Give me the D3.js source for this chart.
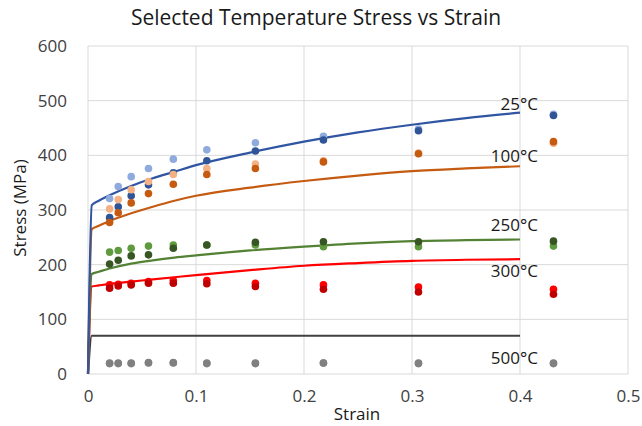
<!DOCTYPE html>
<html>
<head>
<meta charset="utf-8">
<script src="https://cdn.jsdelivr.net/npm/d3@7"></script>
<style>
  html, body { margin: 0; padding: 0; background: #fff; }
  svg { display: block; font-family: "Open Sans", "Noto Sans", sans-serif; }
</style>
</head>
<body>
<svg id="chart" width="642" height="426"></svg>
<script>
// ---------- data ----------
const title = "Selected Temperature Stress vs Strain";
const xTicks = [0, 0.1, 0.2, 0.3, 0.4, 0.5];
const yTicks = [0, 100, 200, 300, 400, 500, 600];

// experimental strain points
const testStrain = [0.02, 0.028, 0.04, 0.056, 0.079, 0.11, 0.155, 0.218, 0.306, 0.431];
const test25a  = [321, 343, 361, 376, 393, 410, 423, 435, 448, 475];
const test25b  = [286, 306, 326, 346, 368, 390, 408, 428, 445, 473];
const test100a = [302, 319, 337, 352, 365, 376, 384, 390, 404, 422];
const test100b = [277, 295, 313, 330, 347, 365, 376, 388, 403, 425];
const test250a = [223, 226, 230, 234, 236, 236, 236, 233, 233, 234];
const test250b = [201, 208, 216, 218, 230, 236, 241, 242, 242, 243];
const test300a = [163, 164, 166, 169, 171, 171, 166, 163, 159, 155];
const test300b = [157, 161, 163, 166, 166, 165, 160, 155, 150, 146];
const test500a = [19, 19, 19, 21, 21, 19, 19, 20, 19, 19];
const test500b = [20, 20, 20, 20, 20, 20, 20, 20, 20, 20];

// model curves
const modelStrain = [0, 0.0035, 0.01, 0.02, 0.04, 0.06, 0.08, 0.1, 0.15, 0.2, 0.25, 0.3, 0.35, 0.4];
const model25  = [0, 309, 317, 327, 344, 358, 370, 382, 405, 425, 442, 456, 468, 478];
const model100 = [0, 265, 271, 280, 294, 306, 317, 326, 341, 353, 363, 371, 376, 380];
const model250 = [0, 183, 187, 193, 202, 208, 213, 217, 226, 233, 239, 243, 245, 246];
const model300 = [0, 160, 162, 165, 169, 173, 177, 181, 190, 198, 203, 207, 209, 210];
const model500 = [0, 70, 70, 70, 70, 70, 70, 70, 70, 70, 70, 70, 70, 70];

const curveLabels = ["25°C", "100°C", "250°C", "300°C", "500°C"];
const labelStress = [494, 399, 272, 188, 29];

// ---------- styles ----------
const lineColors = ["#2f55a3", "#c55a11", "#548235", "#ff0000", "#404040"];
const dotColors = [
  ["#8faadc", "#2f5597"],
  ["#f4b183", "#c55a11"],
  ["#5f9b3e", "#375623"],
  ["#ff0000", "#c00000"],
  ["#808080", "#808080"]
];

const svg = d3.select("#chart");
const M = { left: 88, right: 628, top: 46, bottom: 374 };
const x = d3.scaleLinear().domain([0, 0.5]).range([M.left, M.right]);
const y = d3.scaleLinear().domain([0, 600]).range([M.bottom, M.top]);

// gridlines
const grid = svg.append("g");
grid.selectAll("line.h").data(yTicks).join("line")
  .attr("x1", M.left).attr("x2", M.right)
  .attr("y1", d => y(d)).attr("y2", d => y(d))
  .attr("stroke", "#d9d9d9").attr("stroke-width", 1);
grid.selectAll("line.v").data(xTicks).join("line")
  .attr("x1", d => x(d)).attr("x2", d => x(d))
  .attr("y1", M.top).attr("y2", M.bottom)
  .attr("stroke", "#d9d9d9").attr("stroke-width", 1);

// axes (labels only)
const yAxis = d3.axisLeft(y).tickValues(yTicks).tickSize(0).tickPadding(21).tickFormat(d3.format("d"));
const gy = svg.append("g").attr("transform", `translate(${M.left},0)`).call(yAxis);
gy.select(".domain").remove();
gy.selectAll("text").attr("font-size", 17).attr("fill", "#404040").attr("font-family", "Open Sans");

const xAxis = d3.axisBottom(x).tickValues(xTicks).tickSize(0).tickPadding(16).tickFormat(d => d === 0 ? "0" : d3.format(".1f")(d));
const gx = svg.append("g").attr("transform", `translate(0,${M.bottom})`).call(xAxis);
gx.select(".domain").remove();
gx.selectAll("text").attr("font-size", 17).attr("fill", "#404040").attr("font-family", "Open Sans");

// model lines
const models = [model25, model100, model250, model300, model500];
const line = d3.line().x((d, i) => x(modelStrain[i])).y(d => y(d)).curve(d3.curveMonotoneX);
const order = [4, 3, 2, 1, 0];
order.forEach(k => {
  svg.append("path").datum(models[k])
    .attr("d", line).attr("fill", "none")
    .attr("stroke", lineColors[k]).attr("stroke-width", 2.2)
    .attr("stroke-linejoin", "round");
});

// test points
const tests = [[test25a, test25b], [test100a, test100b], [test250a, test250b], [test300a, test300b], [test500a, test500b]];
tests.forEach((pair, k) => {
  pair.forEach((vals, j) => {
    svg.append("g").selectAll("circle").data(vals).join("circle")
      .attr("cx", (d, i) => x(testStrain[i]))
      .attr("cy", d => y(d))
      .attr("r", 3.8)
      .attr("fill", dotColors[k][j]);
  });
});

// curve labels
svg.append("g").selectAll("text").data(curveLabels).join("text")
  .attr("x", x(0.4) + 18)
  .attr("y", (d, i) => y(labelStress[i]))
  .attr("dy", "0.35em")
  .attr("text-anchor", "end")
  .attr("font-size", 17)
  .attr("fill", "#1a1a1a")
  .text(d => d);

// titles
svg.append("text").attr("x", 316).attr("y", 18).attr("dy", "0.35em")
  .attr("text-anchor", "middle").attr("font-size", 21).attr("fill", "#1a1a1a")
  .text(title);
svg.append("text").attr("x", 357).attr("y", 414).attr("dy", "0.35em")
  .attr("text-anchor", "middle").attr("font-size", 17).attr("fill", "#1a1a1a")
  .text("Strain");
svg.append("text").attr("transform", "translate(20,208) rotate(-90)").attr("dy", "0.35em")
  .attr("text-anchor", "middle").attr("font-size", 17).attr("fill", "#1a1a1a")
  .text("Stress (MPa)");
</script>
</body>
</html>
